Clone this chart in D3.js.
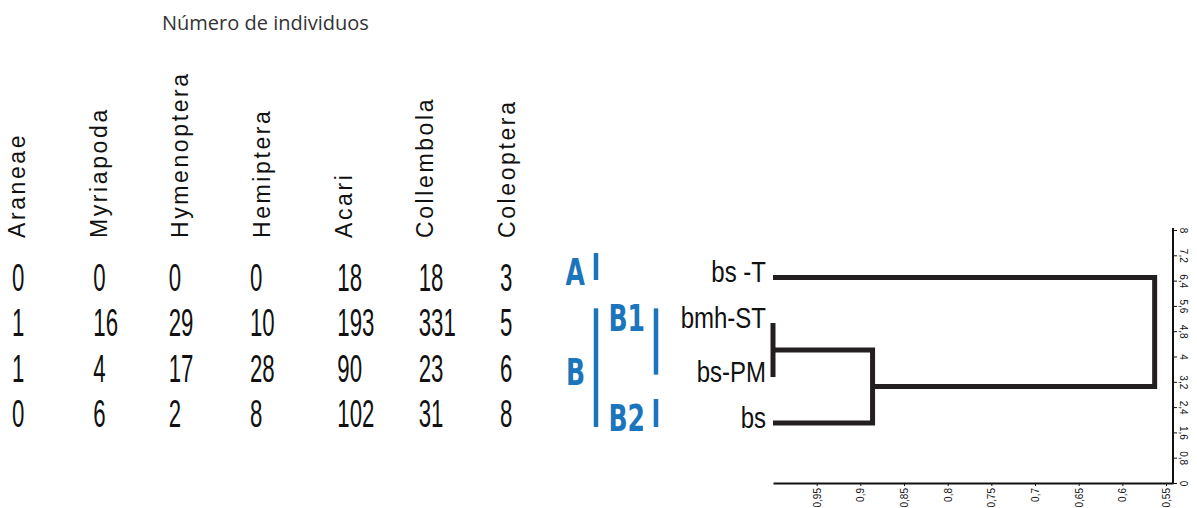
<!DOCTYPE html>
<html lang="es">
<head>
<meta charset="UTF-8">
<title>Número de individuos</title>
<script src="https://d3js.org/d3.v7.min.js"></script>
<style>
  body { margin: 0; background: #fff; }
  svg text { font-family: 'Liberation Sans', Arial, sans-serif; }
  .title { font-family: 'Open Sans', sans-serif; font-size: 20px; fill: #333; }
  .taxon { font-size: 23px; letter-spacing: 2.6px; fill: #111; }
  .count { font-size: 39px; fill: #111; }
  .leaf { font-size: 30px; fill: #111; }
  .group { font-family: 'DejaVu Sans', sans-serif; font-weight: bold; font-size: 38px; fill: #1b75bc; }
  .axis path, .axis line { stroke: #111; }
  .axis path { stroke-width: 2; }
  .axis text { font-size: 10px; fill: #111; }
</style>
</head>
<body>
<svg id="chart" width="1197" height="508"></svg>
<script>
// taxa (columns of the table)
const taxa = ["Araneae", "Myriapoda", "Hymenoptera", "Hemiptera", "Acari", "Collembola", "Coleoptera"];
// sites (rows of the table / leaves of the dendrogram)
const sites = ["bs-T", "bmh-ST", "bs-PM", "bs"];
const siteLabels = ["bs -T", "bmh-ST", "bs-PM", "bs"];

// individuals per site
const countsBsT   = [0, 0, 0, 0, 18, 18, 3];
const countsBmhST = [1, 16, 29, 10, 193, 331, 5];
const countsBsPM  = [1, 4, 17, 28, 90, 23, 6];
const countsBs    = [0, 6, 2, 8, 102, 31, 8];
const counts = [countsBsT, countsBmhST, countsBsPM, countsBs];

// dendrogram: leaf positions on the right axis, merges by similarity
const leafPos = [6.5, 5.06, 3.35, 1.9];
const mergeA   = ["bmh-ST", "B1", "bs-T"];
const mergeB   = ["bs-PM", "bs", "B"];
const mergeId  = ["B1", "B", "root"];
const mergeSim = [1.0, 0.886, 0.563];

// cluster annotations
const groupNames  = ["A", "B", "B1", "B2"];
const groupFirst  = ["bs-T", "bmh-ST", "bmh-ST", "bs"];
const groupLast   = ["bs-T", "bs", "bs-PM", "bs"];
const groupAnchor = ["bs-T", "bs-PM", "bmh-ST", "bs"];
const groupLevel  = [0, 0, 1, 1];

// axis ticks
const xTicks = [0.95, 0.9, 0.85, 0.8, 0.75, 0.7, 0.65, 0.6, 0.55];
const yTicks = [0, 0.8, 1.6, 2.4, 3.2, 4, 4.8, 5.6, 6.4, 7.2, 8];

const svg = d3.select("#chart");
const fmt = d3.formatLocale({ decimal: ",", thousands: ".", grouping: [3], currency: ["", ""] }).format("~g");

// scales
const col = d3.scalePoint().domain(taxa).range([25, 515]);
const num = d3.scalePoint().domain(taxa).range([12, 500]);
const row = d3.scalePoint().domain(sites).range([277, 413]);
const x = d3.scaleLinear().domain([1, 0.542]).range([773, 1173]);
const y = d3.scaleLinear().domain([0, 8]).range([483, 230]);
const groupX = [596, 656];

// title
svg.append("text").attr("class", "title")
    .attr("x", 162).attr("y", 30)
    .text("Número de individuos");

// column headers
svg.selectAll(".taxon")
    .data(taxa)
    .enter()
    .append("text")
    .attr("class", "taxon")
    .attr("transform", d => `translate(${col(d)},238) rotate(-90)`)
    .text(d => d);

// table values
sites.forEach((s, i) => {
    svg.selectAll(".row" + i)
        .data(counts[i])
        .enter()
        .append("text")
        .attr("class", "count row" + i)
        .attr("transform", (d, j) => `translate(${num(taxa[j]) - (j === 2 || j === 3 ? 6 : 0)},${row(s) + 14}) scale(0.57,1)`)
        .text(d => d);
});

// group annotations
const gsel = svg.append("g");
groupNames.forEach((g, i) => {
    const top = row(groupFirst[i]) - (groupFirst[i] === "bs-T" ? 24 : 14);
    const bottom = row(groupLast[i]) + (groupLast[i] === "bs-T" ? 3 : (groupLast[i] === "bs" ? 14 : 7));
    const bx = groupX[groupLevel[i]];
    const cy = y(leafPos[sites.indexOf(groupAnchor[i])]) - 6;
    gsel.append("line")
        .attr("x1", bx).attr("x2", bx)
        .attr("y1", top).attr("y2", bottom)
        .attr("stroke", "#1b75bc")
        .attr("stroke-width", 4.5);
    gsel.append("text")
        .attr("class", "group")
        .attr("text-anchor", "end")
        .attr("transform", `translate(${bx - 11},${cy + 14}) scale(0.66,1)`)
        .text(g);
});

// leaf labels
svg.selectAll(".leaf")
    .data(sites)
    .enter()
    .append("text")
    .attr("class", "leaf")
    .attr("text-anchor", "end")
    .attr("transform", (d, i) => `translate(766,${y(leafPos[i]) + 5}) scale(0.8,1)`)
    .text((d, i) => siteLabels[i]);

// dendrogram
const nodes = {};
sites.forEach((s, i) => { nodes[s] = { x: x(1), y: y(leafPos[i]) }; });
mergeId.forEach((m, i) => {
    const a = nodes[mergeA[i]], b = nodes[mergeB[i]];
    const mx = x(mergeSim[i]);
    const p = d3.path();
    p.moveTo(a.x, a.y);
    p.lineTo(mx, a.y);
    p.lineTo(mx, b.y);
    p.lineTo(b.x, b.y);
    svg.append("path")
        .attr("d", p.toString())
        .attr("fill", "none")
        .attr("stroke", "#231f20")
        .attr("stroke-width", 5)
        .attr("stroke-linejoin", "miter");
    nodes[m] = { x: mx, y: (a.y + b.y) / 2 };
});

// bottom axis
const xAxis = svg.append("g")
    .attr("class", "axis")
    .attr("transform", "translate(0,483)")
    .call(d3.axisBottom(x).tickValues(xTicks).tickFormat(fmt).tickSize(3).tickSizeOuter(0));
xAxis.selectAll("text")
    .attr("transform", "rotate(-90)")
    .attr("x", -5).attr("y", 0).attr("dy", "0.35em")
    .style("text-anchor", "end");

// right axis
const yAxis = svg.append("g")
    .attr("class", "axis")
    .attr("transform", "translate(1173,0)")
    .call(d3.axisRight(y).tickValues(yTicks).tickFormat(fmt).tickSize(4).tickSizeOuter(0));
yAxis.select(".domain").attr("d", `M0,${y(8) - 2}V${y(0)}`);
yAxis.selectAll("text")
    .attr("transform", "rotate(90)")
    .attr("x", 0).attr("y", -7).attr("dy", 0)
    .style("text-anchor", "middle");
</script>
</body>
</html>
